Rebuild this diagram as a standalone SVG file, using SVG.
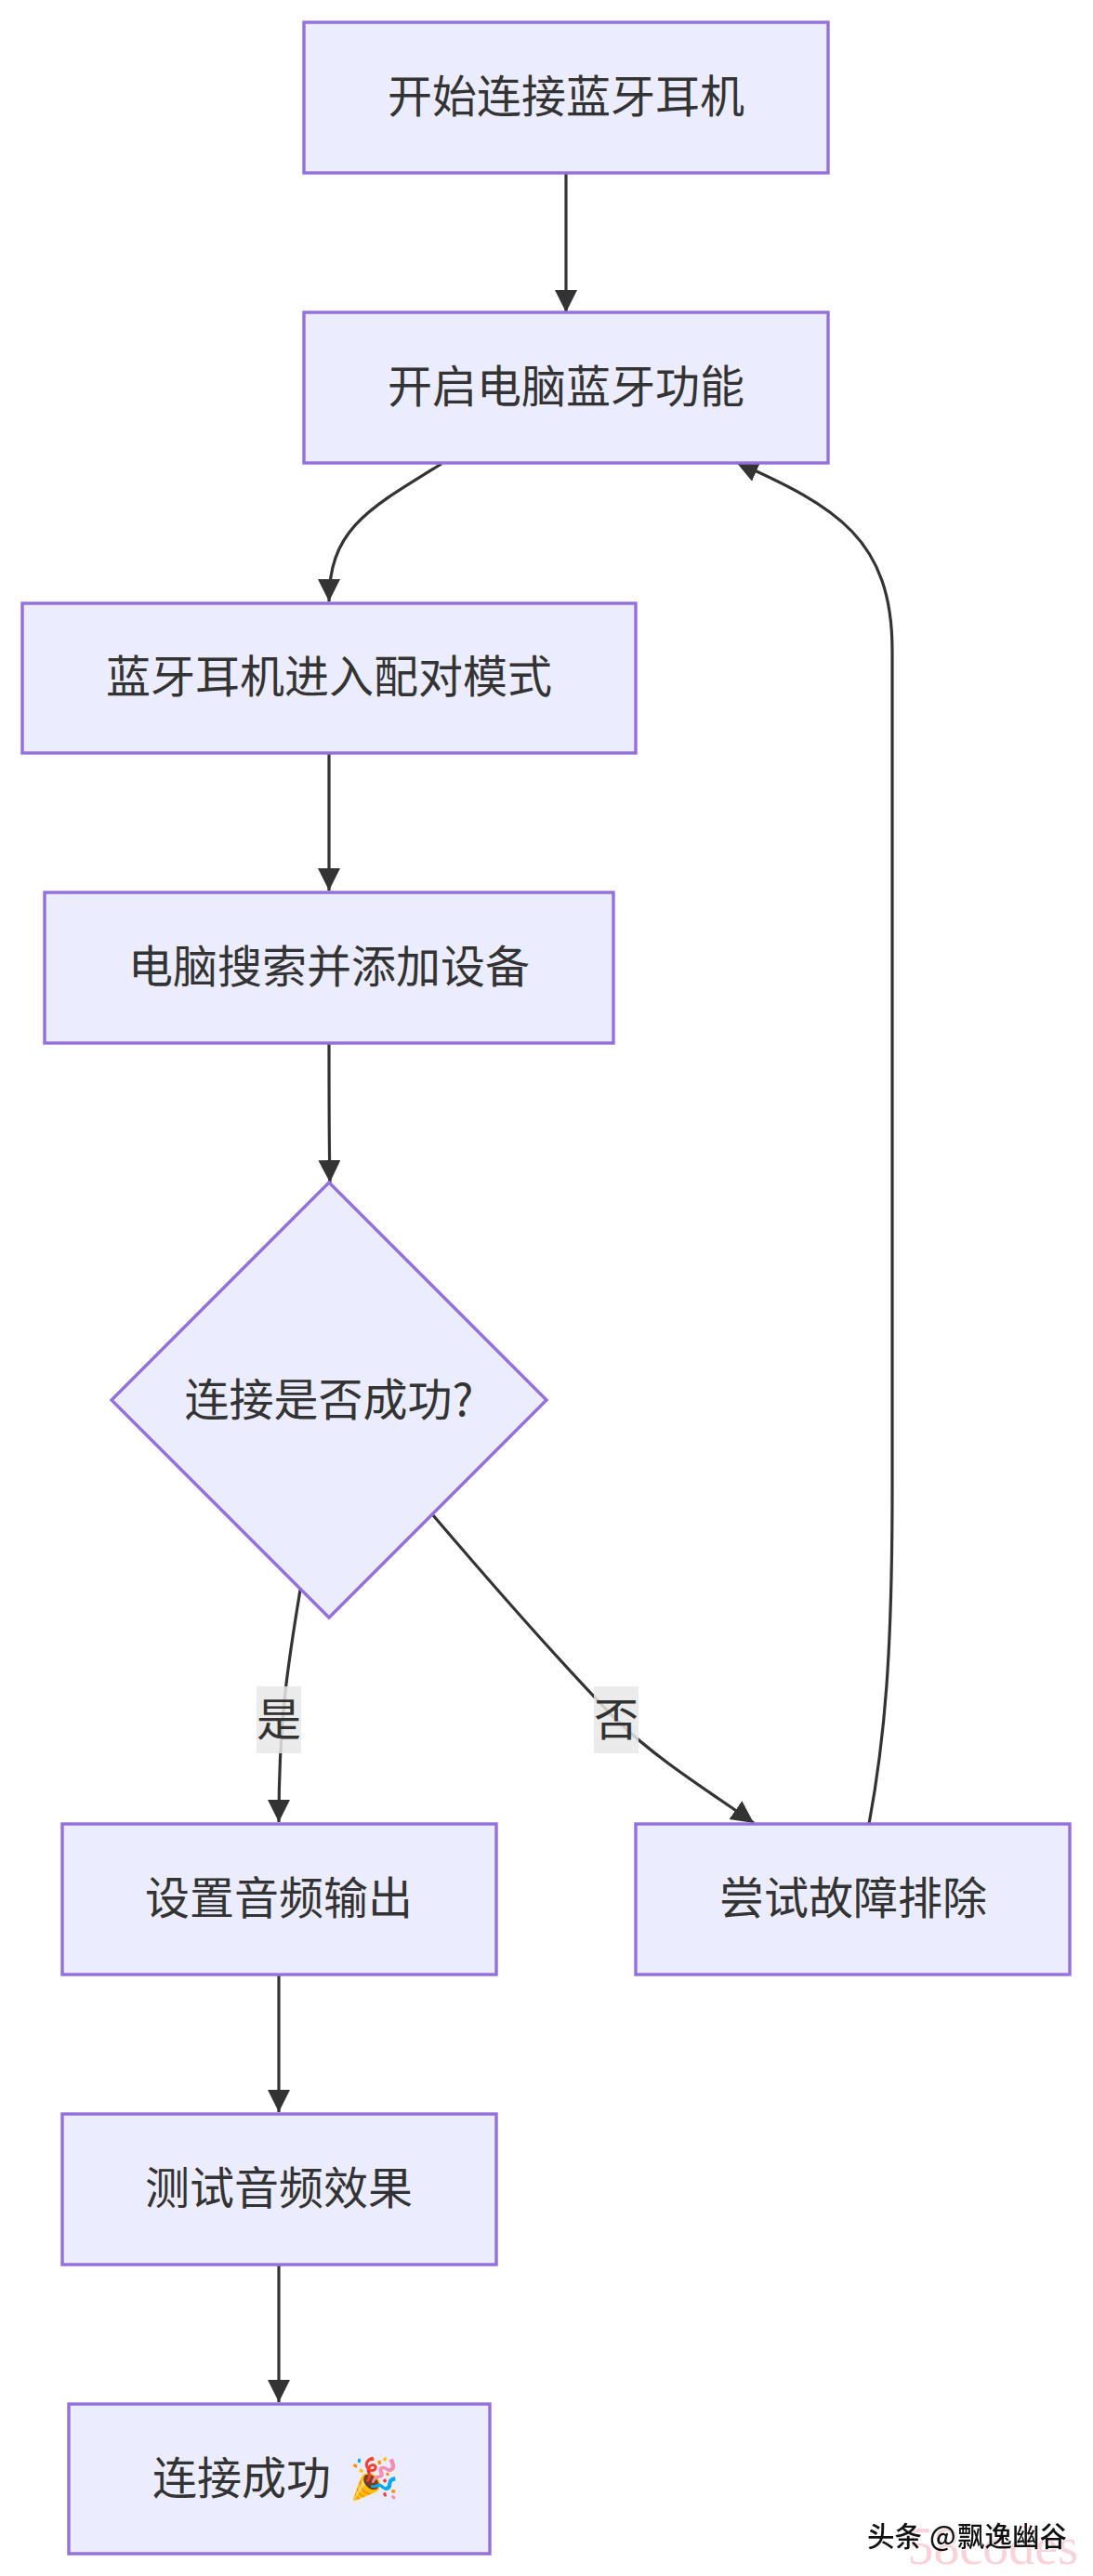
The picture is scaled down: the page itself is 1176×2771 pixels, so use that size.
<svg xmlns="http://www.w3.org/2000/svg" width="1176" height="2771" viewBox="0 0 1176 2771">
<style>
.n{fill:#ECECFF;stroke:#9370DB;stroke-width:3.4}
.t{font-family:"Noto Sans CJK SC","Noto Sans",sans-serif;font-size:48px;fill:#333;text-anchor:middle;dominant-baseline:central}
.e{fill:none;stroke:#333;stroke-width:3.2}
.lb{fill:#e8e8e8;fill-opacity:.85}
</style>
<defs><marker id="a" markerUnits="userSpaceOnUse" markerWidth="26" markerHeight="26" refX="24" refY="12" orient="auto"><path d="M0 0L24 12L0 24z" fill="#333"/></marker></defs>
<rect width="1176" height="2771" fill="#fff"/>
<g id="connectors">
<path class="e" marker-end="url(#a)" d="M609 186V336"/>
<path class="e" marker-end="url(#a)" d="M475 499C395 548 354 570 354 647"/>
<path class="e" marker-end="url(#a)" d="M354 810V958"/>
<path class="e" marker-end="url(#a)" d="M354 1122C354 1180 354 1230 355 1272"/>
<path class="e" marker-end="url(#a)" d="M323 1710C312 1780 300 1840 300 1960"/>
<path class="e" marker-end="url(#a)" d="M466 1630C530 1705 600 1785 663 1850C710 1895 760 1925 811 1961"/>
<path class="e" marker-end="url(#a)" d="M935 1962C952 1870 960 1780 960 1600V700C960 580 900 545 792 497"/>
<path class="e" marker-end="url(#a)" d="M300 2124V2272"/>
<path class="e" marker-end="url(#a)" d="M300 2436V2584"/>
<g id="edge-yes"><rect class="lb" x="276" y="1814" width="48" height="72"/><text class="t" x="300" y="1846">是</text></g>
<g id="edge-no"><rect class="lb" x="639" y="1814" width="48" height="72"/><text class="t" x="663" y="1846">否</text></g>
</g>
<g id="A"><rect class="n" x="327" y="24" width="564" height="162"/><text class="t" x="609" y="100">开始连接蓝牙耳机</text></g>
<g id="B"><rect class="n" x="327" y="336" width="564" height="162"/><text class="t" x="609" y="412">开启电脑蓝牙功能</text></g>
<g id="C"><rect class="n" x="24" y="649" width="660" height="161"/><text class="t" x="354" y="724">蓝牙耳机进入配对模式</text></g>
<g id="D"><rect class="n" x="48" y="960" width="612" height="162"/><text class="t" x="354" y="1036">电脑搜索并添加设备</text></g>
<g id="E"><path class="n" d="M354 1272L588 1506L354 1740L120 1506Z"/><text class="t" x="354" y="1502">连接是否成功?</text></g>
<g id="F"><rect class="n" x="67" y="1962" width="467" height="162"/><text class="t" x="300" y="2038">设置音频输出</text></g>
<g id="G"><rect class="n" x="684" y="1962" width="467" height="162"/><text class="t" x="918" y="2038">尝试故障排除</text></g>
<g id="H"><rect class="n" x="67" y="2274" width="467" height="162"/><text class="t" x="300" y="2350">测试音频效果</text></g>
<g id="I"><rect class="n" x="74" y="2586" width="453" height="161"/><text class="t" y="2662"><tspan x="260">连接成功</tspan><tspan x="403" font-size="43">🎉</tspan></text></g>
<text x="1160" y="2758" text-anchor="end" font-family="Liberation Serif,serif" font-size="56" fill="#f8d3da">58codes</text>
<text y="2739" font-family="Noto Sans CJK SC,sans-serif" font-size="29.5" font-weight="500" fill="#111" style="filter:drop-shadow(1px 1px 0 #fff)"><tspan x="933">头条</tspan><tspan x="1000">@</tspan><tspan x="1030">飘逸幽谷</tspan></text>
</svg>
